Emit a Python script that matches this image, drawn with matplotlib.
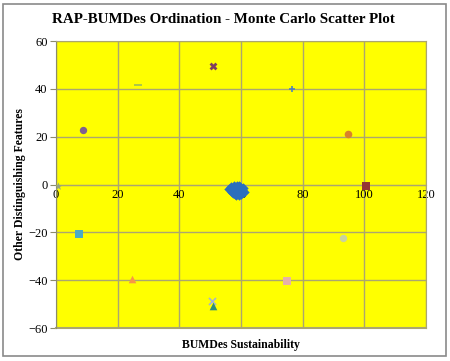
import numpy as np
import matplotlib.pyplot as plt

# Monte Carlo cluster
mc_x = [56.2, 56.8, 57.0, 57.5, 57.8, 58.0, 58.2, 58.5, 58.6, 58.9, 59.0, 59.2,
        59.5, 59.7, 60.0, 60.3, 60.6, 61.0, 57.3, 58.3, 59.4, 60.1, 58.8, 57.6,
        59.9, 58.1, 60.8, 57.1, 59.3, 58.7]
mc_y = [-2.0, -1.2, -3.0, -2.4, -0.8, -3.8, -1.6, -2.6, -0.4, -3.2, -1.9, -4.2,
        -2.8, -1.0, -3.5, -2.2, -1.5, -2.9, -3.6, -4.4, -0.6, -4.0, -1.3, -1.8,
        -2.5, -2.9, -3.3, -2.6, -3.9, -0.9]

# reference / anchor points: x, y, marker, colour
ref_x = [100.4, 0.8, 50.9, 76.6, 26.5, 8.7, 94.8, 7.6, 24.7, 74.8, 50.5, 50.8, 93.0]
ref_y = [-0.6, -0.4, 49.6, 39.9, 41.8, 22.7, 21.0, -20.5, -39.6, -40.3, -48.8, -50.9, -22.3]
ref_m = ['s', '*', 'X', '+', '_', 'o', 'o', 's', '^', 's', 'x', '^', 'o']
ref_c = ['#953735', '#98A67C', '#7F3F5F', '#4F81BD', '#9BBB59', '#7F6090', '#D9822B',
         '#4BACC6', '#F79646', '#E6B0A8', '#A5B5CF', '#2C8C7C', '#C9D3A0']
ref_s = [32, 36, 32, 22, 36, 28, 30, 32, 30, 30, 26, 30, 28]

xticks = [0, 20, 40, 60, 80, 100, 120]
yticks = [-60, -40, -20, 0, 20, 40, 60]

grid_col = '#ABA670'

fig = plt.figure(figsize=(4.5, 3.61), dpi=100)
fig.patch.set_facecolor('white')
ax = fig.add_axes([0.1244, 0.0914, 0.8223, 0.7946])
ax.set_facecolor('#FFFF00')

ax.scatter(mc_x, mc_y, marker='D', s=28, color='#2B6FBD', zorder=3, linewidths=0)
for x, y, m, c, s in zip(ref_x, ref_y, ref_m, ref_c, ref_s):
    lw = 1.2 if m in ['+', '_', 'x'] else 0
    ax.scatter([x], [y], marker=m, s=s, color=c, zorder=4, linewidths=lw)

ax.set_xlim(0, 120)
ax.set_ylim(-60, 60)
ax.set_xticks(xticks)
ax.set_yticks(yticks)
ax.grid(True, color=grid_col, linewidth=1)
ax.set_axisbelow(True)

ax.spines['bottom'].set_position(('data', 0))
ax.spines['bottom'].set_color(grid_col)
ax.spines['left'].set_color('#8C8C6A')
ax.spines['top'].set_color(grid_col)
ax.spines['right'].set_color(grid_col)
ax.axhline(-60, color=grid_col, linewidth=1.5, clip_on=False)

ax.tick_params(axis='x', length=0, pad=3, labelsize=9)
ax.tick_params(axis='y', length=4, color='#8C8C6A', pad=2, labelsize=9)
for lab in ax.get_xticklabels() + ax.get_yticklabels():
    lab.set_fontfamily('Liberation Serif')

fig.text(0.497, 0.945, 'RAP-BUMDes Ordination - Monte Carlo Scatter Plot',
         ha='center', va='center', fontsize=10.8, fontweight='bold', family='Liberation Serif')
fig.text(0.535, 0.045, 'BUMDes Sustainability', ha='center', va='center',
         fontsize=8.5, fontweight='bold', family='Liberation Serif')
fig.text(0.045, 0.49, 'Other Distinguishing Features', ha='center', va='center',
         rotation=90, fontsize=8.5, fontweight='bold', family='Liberation Serif')

# outer chart border
border = plt.Rectangle((0.007, 0.013), 0.984, 0.975, transform=fig.transFigure,
                       fill=False, edgecolor='#8A8A8A', linewidth=1.2)
fig.patches.append(border)

fig.savefig('out.png', dpi=100)
